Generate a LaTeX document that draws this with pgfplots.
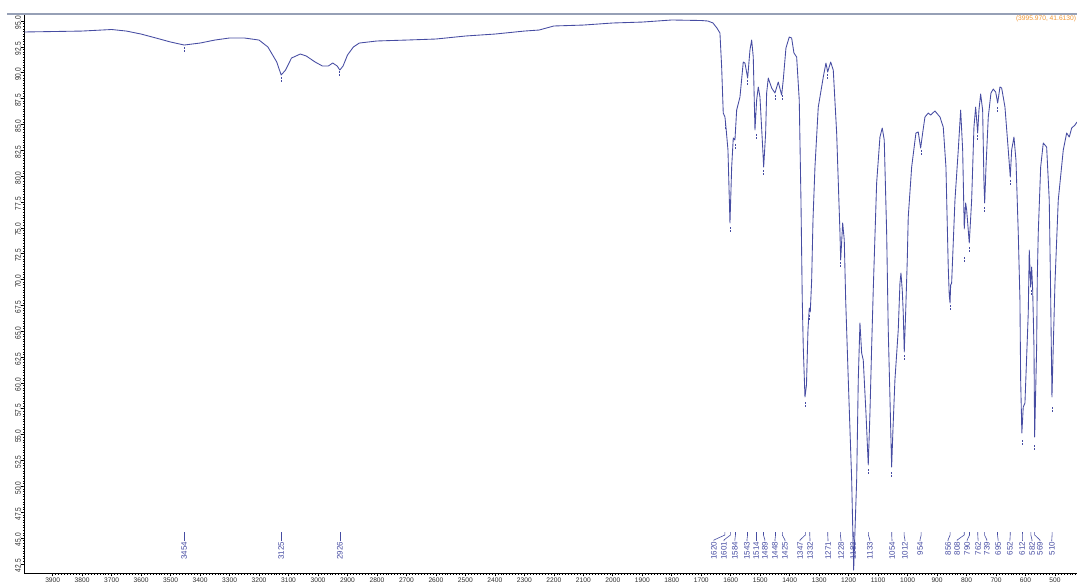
\documentclass[border=0pt]{standalone}
\usepackage{pgfplots}
\pgfplotsset{compat=1.18}
\usepackage{fontspec}
\setmainfont{Liberation Sans}
\definecolor{curve}{RGB}{70,76,162}
\definecolor{tlab}{RGB}{45,45,45}
\definecolor{topline}{RGB}{150,160,182}
\definecolor{anno}{RGB}{240,150,50}
\pgfplotstableread{
x y
3995.97 93.94
3800 94.03
3700 94.18
3650 94.03
3600 93.74
3550 93.36
3500 92.97
3454 92.68
3400 92.87
3350 93.16
3300 93.36
3250 93.36
3200 93.16
3170 92.49
3140 91.04
3125 89.78
3110 90.26
3090 91.42
3060 91.81
3040 91.62
3010 91.04
2985 90.65
2965 90.65
2950 90.94
2935 90.65
2926 90.26
2915 90.65
2900 91.71
2880 92.49
2860 92.87
2800 93.07
2700 93.16
2600 93.26
2500 93.55
2400 93.74
2300 94.03
2250 94.13
2200 94.52
2100 94.61
2000 94.81
1900 94.90
1800 95.10
1700 95.05
1677.3 95.00
1660.3 94.81
1646.7 94.32
1636.6 93.84
1630.8 90.55
1625.4 86.10
1619.6 85.72
1616.2 84.75
1609.4 82.53
1602.6 75.47
1596.8 80.88
1591.4 83.69
1585.7 83.49
1579.9 86.39
1568.7 87.65
1557.5 91.03
1551.8 90.94
1542.6 89.49
1534.8 92.20
1529.0 93.16
1523.6 91.52
1517.8 84.46
1512.1 87.36
1506.6 88.62
1500.9 87.65
1491.7 82.81
1488.3 80.88
1481.6 84.17
1478.2 88.04
1472.7 89.49
1461.2 88.52
1450.0 88.04
1438.8 89.10
1427.3 87.84
1421.9 89.29
1412.7 92.39
1401.5 93.45
1393.4 93.36
1385.6 91.91
1376.4 91.52
1367.6 87.36
1361.8 77.69
1357.4 68.02
1354.0 63.48
1348.2 58.64
1343.1 59.80
1338.0 65.12
1333.6 67.25
1330.2 66.86
1325.5 69.95
1321.0 75.76
1314.3 80.88
1303.1 86.68
1286.1 89.59
1277.0 90.94
1271.2 90.07
1261.0 91.03
1252.2 90.26
1240.7 84.17
1229.5 74.53
1227.1 71.89
1220.3 75.47
1214.9 73.82
1210.1 68.02
1201.3 60.32
1189.8 50.65
1183.0 41.90
1172.8 50.65
1167.4 60.32
1161.7 65.80
1155.9 62.89
1150.5 62.22
1141.3 57.09
1133.5 52.06
1127.8 57.09
1122.0 63.48
1116.6 68.98
1105.1 79.33
1093.9 83.78
1086.1 84.65
1079.3 83.49
1071.1 74.50
1065.7 65.12
1060.0 58.64
1054.2 51.87
1049.8 55.45
1043.0 60.32
1031.8 65.12
1026.0 69.66
1022.6 70.63
1018.2 68.98
1014.8 66.75
1011.4 62.99
1006.7 66.75
1001.2 71.89
997.9 76.04
986.3 80.88
971.8 84.17
964.0 84.27
955.8 82.72
949.0 84.17
941.2 85.72
930.0 86.10
921.9 85.91
907.3 86.30
890.3 85.72
879.1 84.75
870.0 80.88
862.2 71.21
858.8 68.50
856.1 67.73
854.0 69.47
850.7 69.66
839.4 77.69
828.2 82.53
820.1 86.39
813.3 82.53
807.9 74.89
803.1 77.40
799.7 76.72
790.9 73.53
782.8 77.69
775.0 84.75
769.2 86.68
762.4 84.17
758.0 86.39
752.3 87.94
745.5 86.39
741.0 79.33
738.6 77.40
734.2 80.88
726.4 85.72
717.3 88.04
709.5 88.42
701.3 88.13
694.5 87.07
686.8 88.62
681.0 88.52
669.8 86.68
658.6 82.53
651.8 79.91
647.1 82.53
639.3 83.78
632.5 81.56
624.7 74.50
619.0 68.02
616.6 60.32
612.5 55.16
607.8 57.67
602.0 58.06
590.8 66.75
587.4 72.85
582.6 69.27
579.2 71.21
575.8 68.98
571.4 63.48
569.1 54.77
562.3 63.48
560.3 69.95
556.9 74.50
548.7 80.88
539.9 83.20
528.4 82.81
519.6 77.69
515.5 69.95
510.4 58.64
506.0 63.48
500.2 69.66
489.0 77.69
472.0 82.53
460.5 84.17
451.7 83.78
443.5 84.65
432.4 84.94
425.6 85.23
}\spectrum
\pgfplotstableread{
x y
3454 92.20
3125 89.29
2926 89.87
1620 84.75
1601 74.79
1584 82.81
1543 89.00
1514 83.78
1489 80.30
1448 87.55
1425 87.55
1347 57.87
1332 66.28
1271 89.58
1228 71.40
1133 51.39
1054 51.10
1012 62.41
954 82.24
856 67.25
808 71.89
790 72.86
762 83.69
739 76.72
695 86.39
652 79.33
612 54.19
582 68.70
569 53.71
510 57.38
}\peakmarks
\begin{document}
\begin{tikzpicture}
\begin{axis}[
  scale only axis,
  width=799.5pt, height=419.4pt,
  x dir=reverse,
  xmin=380, xmax=3995.97,
  ymin=41.6, ymax=95.68,
  axis x line*=bottom, axis y line*=left,
  axis line style={black, line width=0.6pt},
  clip=false,
  tick align=outside,
  major tick length=2.4pt, minor tick length=1.2pt,
  every tick/.style={black, line width=0.5pt},
  minor tick style={black, line width=0.4pt},
  xtick={400,500,...,3900},
  minor x tick num=9,
  ytick={42.5,45,...,95},
  minor y tick num=9,
  /pgf/number format/assume math mode=true,
  xticklabel style={/pgf/number format/1000 sep={}, font=\fontsize{5}{5}\selectfont, text=tlab, inner sep=0pt, anchor=north, yshift=-0.6pt},
  yticklabel style={/pgf/number format/fixed, /pgf/number format/fixed zerofill, /pgf/number format/precision=1, font=\fontsize{6.2}{6.2}\selectfont, text=tlab, rotate=90, xscale=0.8, anchor=south, inner sep=0pt, xshift=-1.6pt},
]
\addplot[curve, line width=0.65pt, line join=round] table[x=x,y=y] {\spectrum};
\addplot[only marks, mark=|, mark size=2.2pt, mark options={curve, line width=0.5pt, dash pattern=on 1.6pt off 0.8pt}] table[x=x,y=y] {\peakmarks};
\foreach \p/\l in {3454/3454, 3125/3125, 2926/2926, 1620/1657, 1601/1623, 1584/1586, 1543/1545, 1514/1514, 1489/1484, 1448/1450, 1425/1416, 1347/1365, 1332/1331, 1271/1270, 1228/1226, 1183/1185, 1133/1128, 1054/1053, 1012/1009, 954/958, 856/863, 808/832, 790/798, 762/761, 739/731, 695/693, 652/653, 612/612, 582/578, 569/551, 510/511}{
  \edef\temp{\noexpand\draw[curve, line width=0.45pt] (axis cs:\p,45.58) -- (axis cs:\p,45.29) -- (axis cs:\l,44.81) -- (axis cs:\l,44.71) node[rotate=90, anchor=east, inner sep=0.4pt, font=\noexpand\fontsize{6}{6}\noexpand\selectfont, text=curve] {\p};}
  \temp
}
\draw[topline, line width=1.3pt] (rel axis cs:-0.0163,1) -- (rel axis cs:1.02,1);
\node[anchor=east, font=\fontsize{5}{5}\selectfont, text=anno, inner sep=0pt] at (rel axis cs:0.9868,0.991) {(3995.970, 41.6130)};
\coordinate (bl) at (rel axis cs:0,0);
\end{axis}
\pgfresetboundingbox
\path[use as bounding box] (bl) ++(-18.3pt,-8.85pt) rectangle ++(807.75pt,438.75pt);
\end{tikzpicture}
\end{document}
